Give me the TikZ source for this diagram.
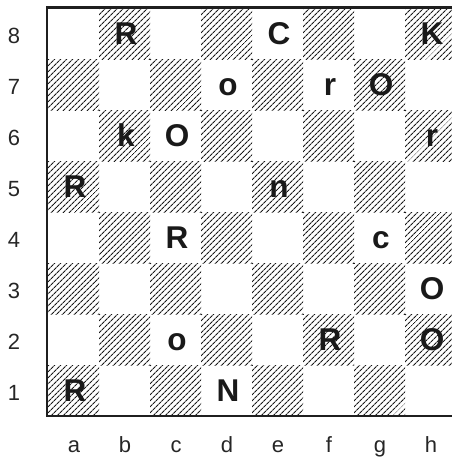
\documentclass[tikz,border=0pt]{standalone}
\usepackage{fontspec}
\setmainfont{Liberation Sans}
\usetikzlibrary{patterns.meta}
\tikzset{
  hatchsq/.style={pattern={Lines[angle=45,distance=4pt,line width=1.2pt]},pattern color=black!90},
  piece/.style={inner sep=0pt,anchor=base,font=\fontsize{31.5}{31.5}\selectfont\bfseries,text=black!90},
  coordlab/.style={inner sep=0pt,anchor=base,font=\fontsize{22}{22}\selectfont,text=black!85},
  frame/.style={draw=black!88}
}
\begin{document}
\begin{tikzpicture}[x=1pt,y=-1pt]
\useasboundingbox (0,0) rectangle (452,458);
% dark squares
\foreach \c in {1,...,8}{
  \foreach \r in {1,...,8}{
    \pgfmathtruncatemacro{\sqpar}{mod(\c+\r,2)}
    \ifnum\sqpar=0
      \fill[hatchsq] ({48+(\c-1)*51},{416-\r*51}) rectangle ++(51,51);
    \fi
  }
}
% frame
\draw[frame,line width=3pt] (46,7.5) -- (452,7.5);
\draw[frame,line width=2.4pt] (47,6) -- (47,417);
\draw[frame,line width=2pt] (46,416) -- (452,416);
% rank labels
\foreach \r in {1,...,8}{
  \node[coordlab] (rank\r) at (14,{416-(\r-0.5)*51+10}) {\r};
}
% file labels
\foreach \f [count=\c] in {a,b,c,d,e,f,g,h}{
  \node[coordlab] (file\f) at ({48+(\c-0.5)*51+0.5},452) {\f};
}
% pieces
\foreach \t/\c/\r/\n in {R/2/8/b8,C/5/8/e8,K/8/8/h8,o/4/7/d7,r/6/7/f7,O/7/7/g7,k/2/6/b6,O/3/6/c6,r/8/6/h6,R/1/5/a5,n/5/5/e5,R/3/4/c4,c/7/4/g4,O/8/3/h3,o/3/2/c2,R/6/2/f2,O/8/2/h2,R/1/1/a1,N/4/1/d1}{
  \node[piece] (p\n) at ({48+(\c-0.5)*51+1.5},{416-(\r-0.5)*51+11}) {\t};
}
\end{tikzpicture}
\end{document}
